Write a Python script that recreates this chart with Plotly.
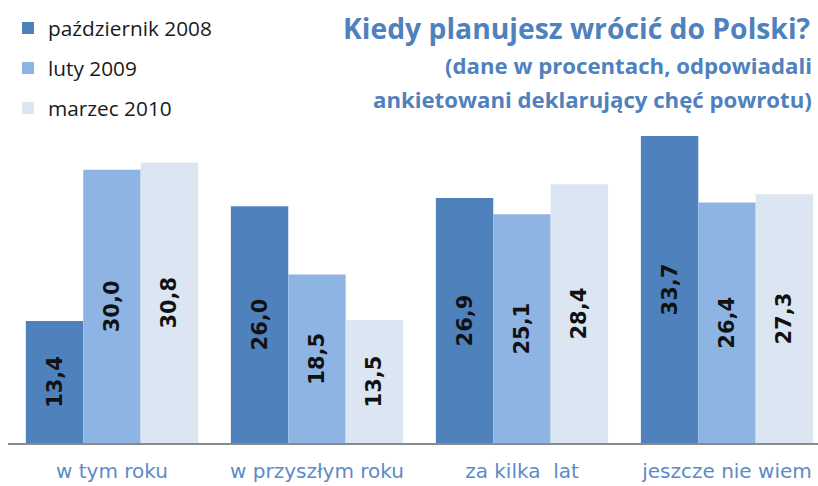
import plotly.graph_objects as go

categories = ["w tym roku", "w przyszłym roku", "za kilka  lat", "jeszcze nie wiem"]
series_names = ["październik 2008", "luty 2009", "marzec 2010"]
oct2008 = [13.4, 26.0, 26.9, 33.7]
feb2009 = [30.0, 18.5, 25.1, 26.4]
mar2010 = [30.8, 13.5, 28.4, 27.3]
colors = ["#4F81BD", "#8EB4E3", "#DCE6F2"]

positions = list(range(len(categories)))
fig = go.Figure()
for name, vals, col in zip(series_names, [oct2008, feb2009, mar2010], colors):
    fig.add_trace(go.Bar(
        x=positions, y=vals, name=name, legendgroup=name,
        marker=dict(color=col, line=dict(width=0)),
        text=[f"{v:.1f}".replace(".", ",") for v in vals],
        textposition="inside", insidetextanchor="middle", textangle=-90,
        textfont=dict(family="DejaVu Sans", size=21, color="#111111", weight="bold"),
        cliponaxis=False,
    ))

BOTTOM = 43
fig.update_layout(
    width=818, height=486,
    margin=dict(l=8, r=0, t=0, b=BOTTOM, autoexpand=False),
    paper_bgcolor="white", plot_bgcolor="white",
    barmode="group", bargap=0.16, bargroupgap=0,
    showlegend=True,
    legend=dict(x=0, y=0.982, xanchor="left", yanchor="top", xref="paper", yref="paper",
                traceorder="grouped", tracegroupgap=10,
                font=dict(family="Open Sans", size=20.8, color="#1a1a1a"),
                bgcolor="rgba(0,0,0,0)"),
    xaxis=dict(range=[-0.507, 3.444], tickvals=positions, ticktext=categories,
               showline=True, linecolor="#8a8a8a", linewidth=2, showgrid=False,
               zeroline=False, ticks="", ticklabelstandoff=9, automargin=False,
               tickfont=dict(family="DejaVu Sans", size=20, color="#5B8BC9")),
    yaxis=dict(range=[0, (486 - BOTTOM) / 9.11], visible=False, showgrid=False,
               zeroline=False, automargin=False),
    uniformtext=dict(minsize=10, mode="show"),
)

fig.add_annotation(text="<b>Kiedy planujesz wrócić do Polski?</b>", xref="paper", yref="paper",
                   x=1, y=1, xanchor="right", yanchor="top", showarrow=False,
                   xshift=-6, yshift=-7,
                   font=dict(family="Open Sans", size=28.3, color="#4F81BD"))
fig.add_annotation(text="<b>(dane w procentach, odpowiadali</b>", xref="paper", yref="paper",
                   x=1, y=1, xanchor="right", yanchor="top", showarrow=False,
                   xshift=-4, yshift=-48,
                   font=dict(family="Open Sans", size=22.2, color="#4F81BD"))
fig.add_annotation(text="<b>ankietowani deklarujący chęć powrotu)</b>", xref="paper", yref="paper",
                   x=1, y=1, xanchor="right", yanchor="top", showarrow=False,
                   xshift=-4, yshift=-82,
                   font=dict(family="Open Sans", size=22.2, color="#4F81BD"))

fig.write_html("out.html")
